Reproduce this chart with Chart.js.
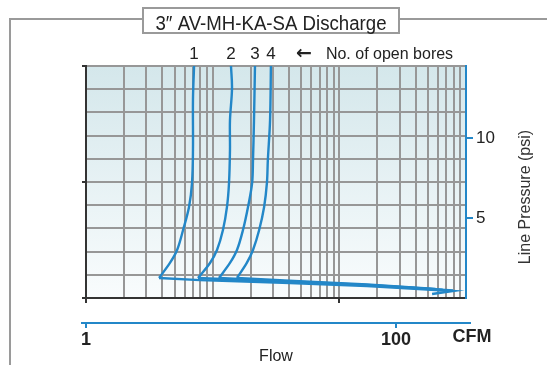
<!DOCTYPE html>
<html>
<head>
<meta charset="utf-8">
<script src="https://cdn.jsdelivr.net/npm/chart.js"></script>
<style>
  body { margin: 0; background: #fff; }
  canvas { display: block; }
</style>
</head>
<body>
<canvas id="myChart" width="547" height="365"></canvas>
<script>
const chartTitle = "3\u2033 AV-MH-KA-SA Discharge";
const boreLabels = ["1", "2", "3", "4"];

// curves, from the knee up to the top of the grid (flow in CFM, pressure in psi)
const flowBore1 = [2.96, 3.48, 3.87, 4.23, 4.62, 4.83, 4.90, 4.90, 4.98];
const psiBore1  = [1.25, 2.19, 3.0, 4.25, 5.69, 7.19, 9.25, 12.4, 14.5];
const flowBore2 = [5.28, 6.31, 7.00, 7.65, 8.12, 8.37, 8.49, 8.49, 8.75, 8.62];
const psiBore2  = [1.25, 2.19, 3.0, 4.25, 5.69, 7.19, 9.25, 11.1, 13.1, 14.5];
const flowBore3 = [7.21, 8.49, 9.42, 10.3, 11.1, 11.8, 11.95, 12.13, 12.31];
const psiBore3  = [1.25, 2.19, 3.0, 4.25, 5.69, 7.19, 8.6, 11.1, 14.5];
const flowBore4 = [9.42, 10.9, 11.95, 13.1, 14.1, 14.7, 14.9, 15.4, 15.6];
const psiBore4  = [1.25, 2.19, 3.0, 4.25, 5.69, 7.19, 8.6, 11.1, 14.5];

// low pressure band running out to the right
const flowLow1 = [2.96, 5.44, 20.7, 65, 233, 171];
const psiLow1  = [1.25, 1.12, 0.94, 0.75, 0.44, 0.25];
const flowLow2 = [5.28, 20.7, 65, 233];
const psiLow2  = [1.25, 1.0, 0.8, 0.47];
const flowLow3 = [7.21, 20.7, 65, 200];
const psiLow3  = [1.25, 1.04, 0.82, 0.52];
const flowLow4 = [9.42, 22, 65, 180];
const psiLow4  = [1.25, 1.06, 0.85, 0.56];

const flowTicks = [1, 100];
const pressureTicks = [5, 10];
const gridFlowTicks = [1, 2, 3, 4, 5, 6, 7, 8, 9, 10, 20, 30, 40, 50, 60, 70, 80, 90,
                       100, 200, 300, 400, 500, 600, 700, 800, 900, 1000];

const blue = "#2387c8";

function toPoints(xs, ys) {
    return xs.map((x, i) => ({ x: x, y: ys[i] }));
}

function curve(xs, ys, tension) {
    return {
        data: toPoints(xs, ys),
        xAxisID: "xf",
        yAxisID: "yp",
        borderColor: blue,
        borderWidth: 2.4,
        pointRadius: 0,
        tension: tension,
        fill: false
    };
}

const curves = [
    [flowBore1, psiBore1], [flowBore2, psiBore2],
    [flowBore3, psiBore3], [flowBore4, psiBore4]
];

const datasets = [
    curve(flowBore1, psiBore1, 0.35),
    curve(flowBore2, psiBore2, 0.35),
    curve(flowBore3, psiBore3, 0.35),
    curve(flowBore4, psiBore4, 0.35),
    curve(flowLow1, psiLow1, 0),
    curve(flowLow2, psiLow2, 0.2),
    curve(flowLow3, psiLow3, 0.2),
    curve(flowLow4, psiLow4, 0.2)
];

const framePlugin = {
    id: "frame",
    beforeDraw(chart) {
        const c = chart.ctx;
        const a = chart.chartArea;
        c.save();
        // plot background
        const g = c.createLinearGradient(0, a.top, 0, a.bottom);
        g.addColorStop(0, "#d4e7eb");
        g.addColorStop(1, "#f9fcfd");
        c.fillStyle = g;
        c.fillRect(a.left, a.top, a.right - a.left, a.bottom - a.top);

        // outer frame + title box
        c.strokeStyle = "#9a9a9a";
        c.lineWidth = 2;
        c.beginPath();
        c.moveTo(10, 365);
        c.lineTo(10, 19);
        c.lineTo(143, 19);
        c.moveTo(399, 19);
        c.lineTo(547, 19);
        c.stroke();
        c.fillStyle = "#fff";
        c.fillRect(143, 8, 256, 25);
        c.strokeRect(143, 8, 256, 25);

        c.fillStyle = "#222";
        c.font = '20px "Liberation Sans", Arial, sans-serif';
        c.textAlign = "center";
        c.textBaseline = "alphabetic";
        c.fillText(chartTitle, 271, 29.5, 231);
        c.restore();
    },
    afterDraw(chart) {
        const c = chart.ctx;
        const a = chart.chartArea;
        const xf = chart.scales.xf;
        c.save();
        c.fillStyle = "#222";
        c.textBaseline = "middle";
        c.textAlign = "center";

        // bore numbers above each curve
        c.font = '17px "Liberation Sans", Arial, sans-serif';
        let lastX = 0;
        boreLabels.forEach((lbl, i) => {
            const xs = curves[i][0];
            lastX = xf.getPixelForValue(xs[xs.length - 1]);
            c.fillText(lbl, lastX, a.top - 12);
        });
        c.font = 'bold 19px "DejaVu Sans", sans-serif';
        c.fillText("\u2190", lastX + 33, a.top - 12);
        c.textAlign = "left";
        c.font = '16px "Liberation Sans", Arial, sans-serif';
        c.fillText("No. of open bores", lastX + 55, a.top - 11);

        // flow axis line runs a bit past the plot
        c.strokeStyle = blue;
        c.lineWidth = 2;
        c.beginPath();
        c.moveTo(xf.left - 5, xf.top);
        c.lineTo(xf.right + 5, xf.top);
        c.stroke();

        c.textAlign = "center";
        c.font = 'bold 18px "Liberation Sans", Arial, sans-serif';
        c.fillText("CFM", xf.right + 6, xf.top + 14);

        // right axis title reads bottom to top
        c.font = '16px "Liberation Sans", Arial, sans-serif';
        c.fillStyle = "#333";
        c.translate(526, 197);
        c.rotate(-Math.PI / 2);
        c.fillText("Line Pressure (psi)", 0, 0);
        c.restore();
    }
};

Chart.defaults.font.family = '"Liberation Sans", Arial, sans-serif';

const ctx = document.getElementById("myChart").getContext("2d");

const config = {
    type: "line",
    data: { datasets },
    options: {
        responsive: false,
        animation: false,
        layout: { padding: { top: 66, left: 80, right: 0, bottom: 0 } },
        plugins: { legend: { display: false }, tooltip: { enabled: false } },
        scales: {
            xg: {
                axis: "x",
                type: "logarithmic",
                position: "bottom",
                weight: 0,
                min: 1,
                max: 1000,
                afterBuildTicks: (s) => { s.ticks = gridFlowTicks.map(v => ({ value: v })); },
                afterFit: (s) => { s.height = 25; },
                ticks: { display: false },
                grid: {
                    color: "#979797",
                    lineWidth: 2,
                    tickLength: 5,
                    tickColor: (c) => (c.tick && (c.tick.value === 1 || c.tick.value === 100)) ? "#333" : "rgba(0,0,0,0)"
                },
                border: { color: "#333", width: 2 }
            },
            xf: {
                axis: "x",
                type: "logarithmic",
                position: "bottom",
                weight: 1,
                min: 1,
                max: 283,
                afterBuildTicks: (s) => { s.ticks = flowTicks.map(v => ({ value: v })); },
                afterFit: (s) => { s.height = 42; },
                ticks: {
                    autoSkip: false,
                    maxRotation: 0,
                    padding: 1,
                    color: "#222",
                    font: { size: 18, weight: "bold" },
                    callback: (v) => String(v)
                },
                grid: { drawOnChartArea: false, color: blue, lineWidth: 2, tickLength: 5 },
                border: { color: blue, width: 2 },
                title: {
                    display: true,
                    text: "Flow",
                    color: "#222",
                    font: { size: 16, lineHeight: 1 },
                    padding: { top: 0, bottom: 0 }
                }
            },
            yg: {
                axis: "y",
                type: "linear",
                position: "left",
                min: 0,
                max: 10,
                afterFit: (s) => { s.width = 6; },
                ticks: { display: false, stepSize: 1 },
                grid: {
                    color: "#979797",
                    lineWidth: 2,
                    tickLength: 4,
                    tickColor: (c) => (c.tick && c.tick.value % 5 === 0) ? "#333" : "rgba(0,0,0,0)"
                },
                border: { color: "#333", width: 2 }
            },
            yp: {
                axis: "y",
                type: "linear",
                position: "right",
                min: 0,
                max: 14.5,
                afterBuildTicks: (s) => { s.ticks = pressureTicks.map(v => ({ value: v })); },
                afterFit: (s) => { s.width = 81; },
                ticks: { padding: 3, color: "#222", font: { size: 17 } },
                grid: { drawOnChartArea: false, color: blue, lineWidth: 2, tickLength: 7 },
                border: { color: blue, width: 2 }
            }
        }
    },
    plugins: [framePlugin]
};

let myChart = new Chart(ctx, config);
</script>
</body>
</html>
